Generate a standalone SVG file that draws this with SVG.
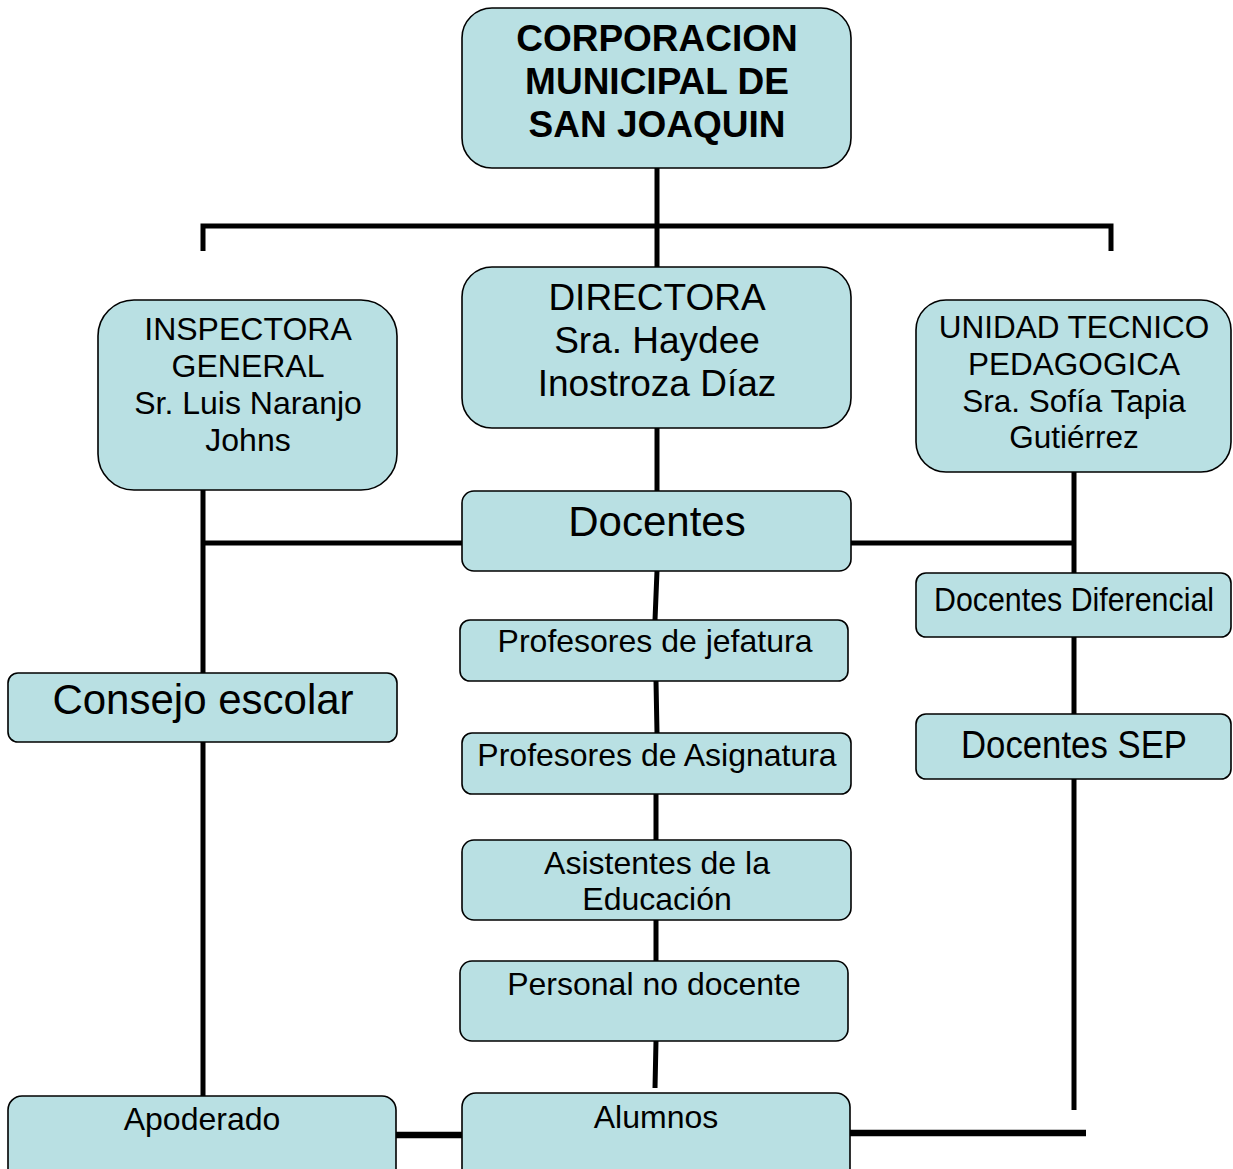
<svg xmlns="http://www.w3.org/2000/svg" width="1233" height="1169" viewBox="0 0 1233 1169">
<style>
.box{fill:#B9E0E3;stroke:#000;stroke-width:1.6}
.t{font-family:"Liberation Sans",Arial,sans-serif;fill:#000;text-anchor:middle}
.b{font-weight:bold}
.c{stroke:#000;stroke-width:5;fill:none}
.c6{stroke:#000;stroke-width:6.5;fill:none}
</style>
<rect width="1233" height="1169" fill="#fff"/>
<g id="connectors">
<path class="c" d="M657 168V267M203 251V226H1111V251"/>
<path class="c" d="M657 428V491"/>
<path class="c" d="M203 490V673M203 543H462M203 742V1096"/>
<path class="c" d="M1074 472V573M851 543H1074M1074 637V714M1074 779V1110"/>
<path class="c" d="M657 571L655 620M656 681L657 733M656 794V840M656 920V961M656 1041L655 1088"/>
<path class="c6" d="M396 1135H462M850 1133H1086"/>
</g>
<g id="corporacion">
<rect class="box" x="462" y="8" width="389" height="160" rx="30"/>
<text class="t b" font-size="37"><tspan x="657" y="51">CORPORACION</tspan><tspan x="657" y="94">MUNICIPAL DE</tspan><tspan x="657" y="137">SAN JOAQUIN</tspan></text>
</g>
<g id="directora">
<rect class="box" x="462" y="267" width="389" height="161" rx="30"/>
<text class="t" font-size="37"><tspan x="657" y="310">DIRECTORA</tspan><tspan x="657" y="353">Sra. Haydee</tspan><tspan x="657" y="396">Inostroza Díaz</tspan></text>
</g>
<g id="inspectora">
<rect class="box" x="98" y="300" width="299" height="190" rx="36"/>
<text class="t" font-size="32"><tspan x="248" y="340">INSPECTORA</tspan><tspan x="248" y="377">GENERAL</tspan><tspan x="248" y="414">Sr. Luis Naranjo</tspan><tspan x="248" y="451">Johns</tspan></text>
</g>
<g id="utp">
<rect class="box" x="916" y="300" width="315" height="172" rx="30"/>
<text class="t" font-size="31.5"><tspan x="1074" y="338">UNIDAD TECNICO</tspan><tspan x="1074" y="375">PEDAGOGICA</tspan><tspan x="1074" y="412">Sra. Sofía Tapia</tspan><tspan x="1074" y="448">Gutiérrez</tspan></text>
</g>
<g id="docentes">
<rect class="box" x="462" y="491" width="389" height="80" rx="12"/>
<text class="t" font-size="42" x="657" y="536">Docentes</text>
</g>
<g id="jefatura">
<rect class="box" x="460" y="620" width="388" height="61" rx="10"/>
<text class="t" font-size="32" x="655" y="652">Profesores de jefatura</text>
</g>
<g id="asignatura">
<rect class="box" x="462" y="733" width="389" height="61" rx="10"/>
<text class="t" font-size="32" x="657" y="766">Profesores de Asignatura</text>
</g>
<g id="asistentes">
<rect class="box" x="462" y="840" width="389" height="80" rx="12"/>
<text class="t" font-size="32"><tspan x="657" y="874">Asistentes de la</tspan><tspan x="657" y="910">Educación</tspan></text>
</g>
<g id="personal">
<rect class="box" x="460" y="961" width="388" height="80" rx="12"/>
<text class="t" font-size="32" x="654" y="995">Personal no docente</text>
</g>
<g id="alumnos">
<rect class="box" x="462" y="1093" width="388" height="90" rx="14"/>
<text class="t" font-size="32" x="656" y="1128">Alumnos</text>
</g>
<g id="consejo">
<rect class="box" x="8" y="673" width="389" height="69" rx="10"/>
<text class="t" font-size="42" x="203" y="714">Consejo escolar</text>
</g>
<g id="apoderado">
<rect class="box" x="8" y="1096" width="388" height="90" rx="14"/>
<text class="t" font-size="32" x="202" y="1130">Apoderado</text>
</g>
<g id="diferencial">
<rect class="box" x="916" y="573" width="315" height="64" rx="10"/>
<text class="t" font-size="34" x="1074" y="611" textLength="280" lengthAdjust="spacingAndGlyphs">Docentes Diferencial</text>
</g>
<g id="sep">
<rect class="box" x="916" y="714" width="315" height="65" rx="10"/>
<text class="t" font-size="39" x="1074" y="758" textLength="226" lengthAdjust="spacingAndGlyphs">Docentes SEP</text>
</g>
</svg>
